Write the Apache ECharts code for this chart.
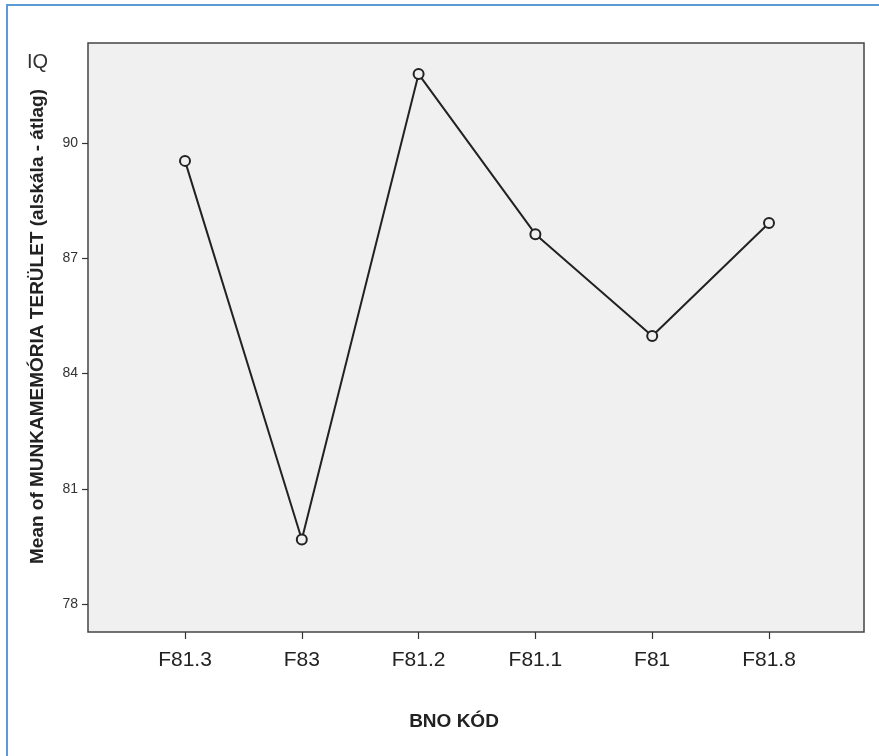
<!DOCTYPE html>
<html>
<head>
<meta charset="utf-8">
<script src="https://cdn.jsdelivr.net/npm/echarts@6/dist/echarts.min.js"></script>
<style>
html,body{margin:0;padding:0;background:#fff;}
#wrap{position:relative;width:879px;height:756px;overflow:hidden;}
#chart{position:absolute;left:0;top:0;width:879px;height:756px;}
#frameTop{position:absolute;left:6px;top:4px;width:873px;height:0;border-top:2px solid #5B9BD5;}
#frameLeft{position:absolute;left:6px;top:4px;width:0;height:752px;border-left:2px solid #5B9BD5;}
</style>
</head>
<body>
<div id="wrap">
<div id="chart"></div>
<div id="frameTop"></div>
<div id="frameLeft"></div>
</div>
<script>
var categories = ['F81.3', 'F83', 'F81.2', 'F81.1', 'F81', 'F81.8'];
var meanValues = [89.54, 79.68, 91.80, 87.63, 84.98, 87.92];
var yTicks = [78, 81, 84, 87, 90];
var yMin = 77.27, yMax = 92.61;
var yTitle = 'Mean of MUNKAMEMÓRIA TERÜLET (alskála - átlag)';
var xTitle = 'BNO KÓD';
var unitLabel = 'IQ';

var chart = echarts.init(document.getElementById('chart'), null, {renderer: 'canvas'});
var font = '"Liberation Sans", Arial, sans-serif';
var narrow = '"Liberation Sans Narrow", "Arial Narrow", "Liberation Sans", Arial, sans-serif';
chart.setOption({
  animation: false,
  backgroundColor: '#fff',
  grid: [
    {left: 88, top: 43, width: 776, height: 589, show: true, backgroundColor: '#f0f0f0', borderColor: '#444', borderWidth: 1.5},
    {left: 185, top: 43, width: 584, height: 589, show: false}
  ],
  xAxis: [
    {gridIndex: 0, type: 'value', show: false, min: 0, max: 1},
    {gridIndex: 1, type: 'category', data: categories, boundaryGap: false,
     axisLine: {show: false},
     axisTick: {show: true, length: 7, lineStyle: {color: '#333', width: 1.2}},
     axisLabel: {margin: 18, fontSize: 21, color: '#222', fontFamily: narrow},
     splitLine: {show: false}}
  ],
  yAxis: [
    {gridIndex: 0, type: 'value', min: yMin, max: yMax,
     axisLine: {show: false},
     axisTick: {show: true, length: 6, customValues: yTicks, lineStyle: {color: '#333', width: 1.2}},
     axisLabel: {show: true, customValues: yTicks, margin: 10, fontSize: 14, color: '#333', fontFamily: narrow},
     splitLine: {show: false},
     name: yTitle, nameLocation: 'middle', nameGap: 41, nameRotate: 90,
     nameTextStyle: {fontSize: 19, fontWeight: 'bold', color: '#222', fontFamily: font, padding: [0, 0, 0, 22]}},
    {gridIndex: 1, type: 'value', min: yMin, max: yMax, show: false, splitLine: {show: false}}
  ],
  graphic: [
    {type: 'text', left: 27, top: 52, style: {text: unitLabel, fontSize: 20, fill: '#333', fontFamily: font}},
    {type: 'text', x: 454, y: 722, style: {text: xTitle, fontSize: 19, fontWeight: 'bold', fill: '#222', fontFamily: narrow, align: 'center', verticalAlign: 'middle'}}
  ],
  series: [{
    type: 'line', xAxisIndex: 1, yAxisIndex: 1, data: meanValues,
    symbol: 'circle', symbolSize: 10, showAllSymbol: true,
    lineStyle: {color: '#222', width: 2},
    itemStyle: {color: '#f0f0f0', borderColor: '#222', borderWidth: 2}
  }]
});
</script>
</body>
</html>
